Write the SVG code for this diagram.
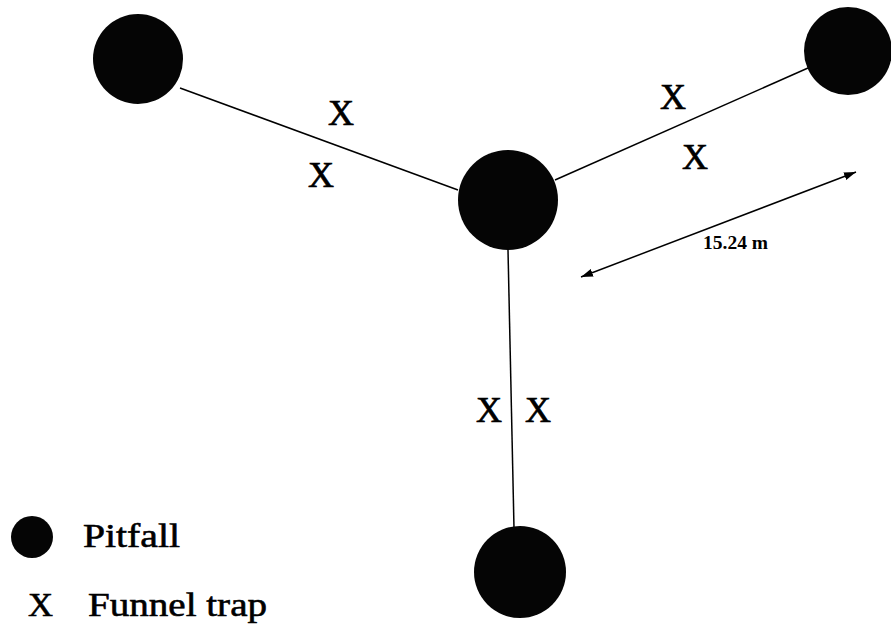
<svg xmlns="http://www.w3.org/2000/svg" width="891" height="636" viewBox="0 0 891 636">
  <style>
    .pit { fill: #050505; }
    .link { stroke: #000; stroke-width: 1.5; fill: none; }
    .x { font-family: "Liberation Serif", "DejaVu Serif", serif; font-size: 36px; fill: #000; stroke: #000; stroke-width: 0.7; text-anchor: middle; }
    .leg { font-family: "Liberation Serif", "DejaVu Serif", serif; font-size: 34px; fill: #000; stroke: #000; stroke-width: 0.6; }
    .dim { font-family: "Liberation Serif", "DejaVu Serif", serif; font-size: 18px; font-weight: bold; fill: #000; }
  </style>
  <defs>
    <marker id="ah" viewBox="0 0 12 8" refX="12" refY="4" markerWidth="12" markerHeight="8" markerUnits="userSpaceOnUse" orient="auto-start-reverse">
      <path d="M0,0 L12,4 L0,8 Z" fill="#000"/>
    </marker>
  </defs>
  <rect width="891" height="636" fill="#fff"/>

  <g id="connectors">
    <line class="link" x1="180" y1="88" x2="458" y2="190"/>
    <line class="link" x1="555" y1="180" x2="808" y2="68"/>
    <line class="link" x1="508" y1="250" x2="514" y2="528"/>
    <line class="link" x1="581" y1="277" x2="856" y2="172" marker-start="url(#ah)" marker-end="url(#ah)"/>
  </g>

  <g id="pitfall-topleft"><circle class="pit" cx="138" cy="59" r="45"/></g>
  <g id="pitfall-center"><circle class="pit" cx="508" cy="200" r="50"/></g>
  <g id="pitfall-topright"><circle class="pit" cx="848" cy="51" r="44"/></g>
  <g id="pitfall-bottom"><circle class="pit" cx="520" cy="572" r="46"/></g>

  <g id="funnel-traps">
    <text class="x" x="341" y="125">X</text>
    <text class="x" x="321" y="187">X</text>
    <text class="x" x="673" y="109">X</text>
    <text class="x" x="695" y="169">X</text>
    <text class="x" x="489" y="422">X</text>
    <text class="x" x="538" y="422">X</text>
  </g>

  <g id="dimension">
    <text class="dim" x="703" y="249" textLength="65" lengthAdjust="spacingAndGlyphs">15.24 m</text>
  </g>

  <g id="legend">
    <circle class="pit" cx="32" cy="537" r="21"/>
    <text class="leg" x="83" y="547" textLength="97" lengthAdjust="spacingAndGlyphs">Pitfall</text>
    <text class="leg" x="28" y="616" textLength="25" lengthAdjust="spacingAndGlyphs">X</text>
    <text class="leg" x="88" y="616" textLength="179" lengthAdjust="spacingAndGlyphs">Funnel trap</text>
  </g>
</svg>
